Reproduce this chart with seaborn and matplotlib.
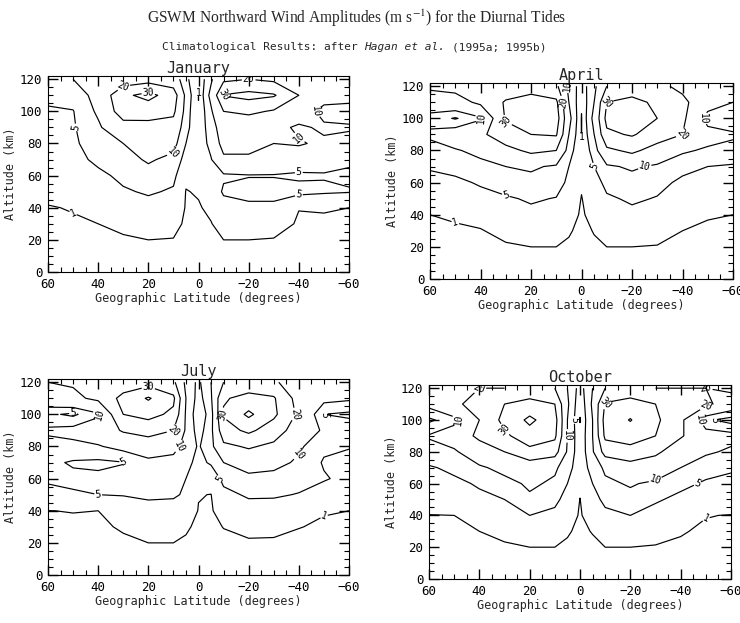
import numpy as np
import matplotlib
matplotlib.use("Agg")
import matplotlib.pyplot as plt
import seaborn as sns
from matplotlib.ticker import MultipleLocator

# ---------------- data ----------------
LAT = [60, 50, 40, 30, 20, 10, 5, 0, -5, -10, -20, -30, -40, -50, -60]
ALT = [0, 10, 20, 30, 40, 50, 60, 70, 80, 90, 100, 110, 120]
LEVELS = [1, 5, 10, 20, 30, 40]
MONTHS = ["January", "April", "July", "October"]
XTICKS = [60, 40, 20, 0, -20, -40, -60]
YTICKS = [0, 20, 40, 60, 80, 100, 120]

# each inner list: amplitude profile (m/s) at one latitude, altitude 0..120 km
JAN = [
    [0.2, 0.3, 0.5, 0.7, 0.9, 1.5, 2.5, 3.0, 3.5, 4.0, 4.5, 6.0, 8.0],
    [0.2, 0.3, 0.5, 0.8, 1.1, 2.0, 3.0, 3.5, 4.0, 4.5, 4.8, 7.0, 10.0],
    [0.2, 0.3, 0.6, 1.0, 1.5, 2.5, 4.0, 6.0, 8.0, 9.0, 11.0, 12.0, 11.0],
    [0.2, 0.3, 0.8, 1.4, 2.5, 4.5, 6.0, 8.0, 10.0, 16.0, 25.0, 28.0, 14.0],
    [0.2, 0.4, 1.0, 2.0, 3.5, 5.5, 8.0, 10.7, 13.0, 17.0, 24.0, 33.0, 16.0],
    [0.2, 0.4, 0.9, 1.8, 3.0, 4.5, 6.0, 8.5, 12.0, 16.0, 22.0, 25.0, 14.0],
    [0.1, 0.2, 0.4, 0.6, 0.8, 0.9, 1.5, 3.0, 5.0, 6.0, 7.0, 8.0, 6.0],
    [0.1, 0.2, 0.4, 0.6, 0.8, 1.2, 1.8, 2.5, 3.0, 2.5, 1.2, 0.9, 1.5],
    [0.1, 0.3, 0.6, 0.9, 1.5, 2.5, 3.5, 4.8, 6.0, 7.0, 9.0, 12.0, 9.0],
    [0.2, 0.4, 1.0, 2.0, 3.5, 5.5, 4.5, 9.0, 12.0, 14.0, 20.0, 30.5, 18.0],
    [0.2, 0.4, 1.0, 2.0, 4.0, 6.5, 4.8, 9.5, 11.0, 13.0, 22.0, 33.0, 20.0],
    [0.2, 0.3, 0.9, 1.8, 4.0, 6.5, 4.8, 8.0, 10.0, 12.0, 19.0, 31.0, 18.0],
    [0.2, 0.3, 0.6, 0.8, 1.05, 6.0, 4.5, 7.0, 10.5, 9.0, 14.0, 20.0, 14.0],
    [0.2, 0.3, 0.5, 0.8, 1.1, 5.5, 4.8, 6.0, 9.0, 11.0, 8.0, 13.0, 12.0],
    [0.2, 0.3, 0.5, 0.7, 1.0, 5.2, 4.5, 5.5, 8.5, 10.5, 8.0, 12.0, 11.0],
]

APR = [
    [0.2, 0.3, 0.5, 0.7, 1.0, 2.0, 3.5, 5.5, 8.0, 11.0, 8.0, 14.0, 22.0],
    [0.2, 0.3, 0.5, 0.8, 1.2, 2.5, 4.0, 6.5, 9.5, 14.0, 4.5, 16.0, 23.0],
    [0.2, 0.3, 0.6, 0.9, 1.6, 3.5, 5.5, 8.5, 11.5, 18.0, 9.0, 22.0, 24.0],
    [0.2, 0.3, 0.8, 1.5, 3.0, 4.5, 7.0, 10.0, 17.0, 26.0, 31.0, 31.0, 24.0],
    [0.2, 0.4, 1.0, 2.2, 4.0, 5.5, 8.0, 11.0, 22.0, 30.0, 36.0, 34.0, 26.0],
    [0.2, 0.4, 1.0, 2.0, 3.5, 4.8, 7.0, 9.0, 20.0, 31.0, 35.0, 32.0, 22.0],
    [0.1, 0.3, 0.7, 1.2, 2.0, 3.0, 4.0, 5.0, 7.0, 10.0, 12.0, 10.0, 8.0],
    [0.1, 0.2, 0.3, 0.5, 0.7, 0.9, 1.3, 1.8, 1.5, 0.9, 0.8, 1.5, 3.0],
    [0.1, 0.3, 0.7, 1.1, 1.8, 2.5, 3.5, 5.0, 7.0, 10.0, 12.0, 10.0, 8.0],
    [0.2, 0.4, 1.0, 2.0, 3.5, 4.5, 6.0, 9.0, 18.0, 28.0, 33.0, 30.0, 20.0],
    [0.2, 0.4, 1.0, 2.2, 4.2, 5.5, 7.5, 11.0, 22.0, 31.0, 36.0, 33.0, 24.0],
    [0.2, 0.3, 0.9, 1.8, 3.5, 4.8, 6.0, 9.0, 16.0, 25.0, 30.0, 28.0, 22.0],
    [0.2, 0.3, 0.6, 1.0, 1.8, 3.0, 4.3, 6.0, 11.0, 20.0, 22.0, 22.0, 18.0],
    [0.2, 0.3, 0.5, 0.8, 1.1, 2.2, 3.5, 5.0, 9.0, 13.0, 7.0, 14.0, 16.0],
    [0.2, 0.3, 0.5, 0.7, 1.0, 2.0, 3.0, 4.5, 8.0, 11.0, 5.0, 10.0, 14.0],
]

JUL = [
    [0.2, 0.3, 0.5, 0.7, 0.98, 4.0, 5.5, 6.0, 8.0, 11.0, 6.0, 15.0, 20.0],
    [0.2, 0.3, 0.5, 0.7, 1.05, 4.5, 6.0, 4.5, 8.5, 12.0, 4.0, 18.0, 21.0],
    [0.2, 0.3, 0.6, 0.7, 1.0, 5.0, 6.0, 4.0, 9.5, 14.0, 9.0, 22.0, 22.0],
    [0.2, 0.3, 0.7, 1.2, 2.5, 5.2, 6.5, 4.8, 12.0, 21.0, 30.0, 33.0, 24.0],
    [0.2, 0.4, 1.0, 2.5, 4.0, 5.5, 7.0, 8.5, 14.0, 24.0, 33.0, 41.0, 26.0],
    [0.2, 0.4, 1.0, 2.2, 3.5, 5.5, 6.5, 8.0, 12.0, 20.0, 28.0, 32.0, 22.0],
    [0.1, 0.3, 0.8, 1.2, 2.5, 4.5, 5.0, 6.0, 8.0, 9.0, 9.0, 10.0, 8.0],
    [0.1, 0.2, 0.4, 0.7, 0.9, 1.1, 3.0, 4.0, 4.5, 3.0, 2.0, 3.0, 4.0],
    [0.1, 0.2, 0.4, 0.6, 0.7, 0.95, 2.5, 5.5, 8.0, 8.0, 7.0, 9.0, 10.0],
    [0.2, 0.4, 0.6, 1.05, 2.5, 4.0, 6.0, 10.0, 18.0, 26.0, 31.0, 29.0, 20.0],
    [0.2, 0.4, 0.8, 1.5, 3.5, 5.5, 8.0, 14.0, 21.0, 32.0, 42.0, 33.0, 24.0],
    [0.2, 0.3, 0.8, 1.4, 3.2, 5.5, 8.0, 12.0, 18.0, 25.0, 32.0, 31.0, 22.0],
    [0.2, 0.3, 0.6, 1.05, 2.0, 4.8, 6.5, 9.0, 11.0, 15.0, 18.0, 16.0, 12.0],
    [0.2, 0.3, 0.5, 0.8, 1.1, 2.5, 5.5, 4.5, 6.0, 9.0, 5.0, 12.0, 11.0],
    [0.2, 0.3, 0.5, 0.7, 1.0, 2.0, 3.5, 4.0, 5.2, 8.0, 4.0, 11.0, 11.0],
]

OCT = [
    [0.2, 0.3, 0.5, 0.7, 0.95, 2.0, 3.5, 4.5, 8.0, 10.5, 4.0, 12.0, 16.0],
    [0.2, 0.3, 0.5, 0.8, 1.0, 2.5, 4.0, 6.0, 9.0, 14.0, 8.0, 18.0, 18.0],
    [0.2, 0.3, 0.6, 1.0, 1.8, 4.0, 5.5, 9.0, 15.0, 22.0, 20.0, 24.0, 20.0],
    [0.2, 0.4, 0.8, 1.4, 3.0, 5.0, 8.0, 12.0, 20.0, 28.0, 33.0, 30.0, 20.0],
    [0.2, 0.4, 1.0, 2.2, 5.0, 9.0, 11.0, 14.0, 27.0, 36.0, 42.0, 34.0, 22.0],
    [0.2, 0.4, 1.0, 2.0, 4.0, 6.0, 9.0, 11.0, 24.0, 32.0, 34.0, 30.0, 20.0],
    [0.1, 0.3, 0.7, 1.2, 2.0, 3.5, 5.0, 7.0, 9.0, 10.0, 10.0, 11.0, 10.0],
    [0.1, 0.2, 0.4, 0.6, 0.8, 0.95, 1.5, 2.0, 2.0, 1.5, 0.9, 1.5, 3.0],
    [0.1, 0.2, 0.6, 1.1, 2.0, 3.5, 5.0, 7.0, 9.0, 10.0, 10.0, 11.0, 10.0],
    [0.2, 0.4, 1.0, 2.0, 4.0, 6.0, 9.0, 11.0, 24.0, 32.0, 34.0, 31.0, 20.0],
    [0.2, 0.4, 1.0, 2.2, 5.0, 8.5, 10.5, 16.0, 26.0, 35.0, 40.5, 35.0, 22.0],
    [0.2, 0.4, 0.9, 1.6, 3.5, 5.5, 9.0, 14.0, 22.0, 30.0, 32.0, 30.0, 20.0],
    [0.2, 0.3, 0.8, 1.1, 2.0, 4.0, 6.0, 10.0, 14.0, 21.0, 22.0, 25.0, 20.0],
    [0.2, 0.3, 0.5, 0.8, 1.05, 2.5, 4.5, 6.5, 11.0, 13.0, 6.0, 22.0, 20.0],
    [0.2, 0.3, 0.5, 0.7, 0.95, 2.0, 4.0, 5.5, 9.0, 12.0, 3.0, 15.0, 22.0],
]

FIELDS = [JAN, APR, JUL, OCT]

# ---------------- style ----------------
sns.set_theme(style="ticks")
MONO = ["DejaVu Sans Mono", "DejaVu Sans"]
plt.rcParams.update({
    "font.family": MONO,
    "mathtext.fontset": "stix",
    "axes.edgecolor": "black",
    "axes.linewidth": 0.8,
    "xtick.color": "black",
    "ytick.color": "black",
    "xtick.direction": "in",
    "ytick.direction": "in",
    "xtick.top": True,
    "ytick.right": True,
})

fig = plt.figure(figsize=(7.4, 6.23), dpi=100)
W, H = 740.0, 623.0

# axes boxes in pixels: (left, top, right, bottom)
BOXES = [(48, 76, 349, 272), (430, 83, 733, 279),
         (48, 379, 349, 575), (429, 385, 731, 579)]

for month, field, (l, t, r, b) in zip(MONTHS, FIELDS, BOXES):
    ax = fig.add_axes([l / W, 1 - b / H, (r - l) / W, (b - t) / H])
    Z = np.array(field, dtype=float).T          # rows: altitude, cols: latitude
    x = np.array(LAT, dtype=float)[::-1]
    Z = Z[:, ::-1]
    cs = ax.contour(x, ALT, Z, levels=LEVELS, colors="black", linewidths=0.85)
    ax.clabel(cs, fmt="%d", fontsize=7, inline=True, inline_spacing=1)
    ax.set_xlim(60, -60)
    ax.set_ylim(0, 122)
    ax.set_xticks(XTICKS)
    ax.set_yticks(YTICKS)
    ax.xaxis.set_minor_locator(MultipleLocator(5))
    ax.yaxis.set_minor_locator(MultipleLocator(5))
    ax.tick_params(axis="both", which="major", direction="in", length=7,
                   width=1.0, colors="black", top=True, right=True,
                   bottom=True, left=True, labelsize=9, pad=4)
    ax.tick_params(axis="both", which="minor", direction="in", length=3.5,
                   width=0.8, colors="black", top=True, right=True,
                   bottom=True, left=True)
    ax.set_xlabel("Geographic Latitude (degrees)", fontsize=8.5, labelpad=1)
    ax.set_ylabel("Altitude (km)", fontsize=8.5, labelpad=2)
    ax.set_title(month, fontsize=11, pad=2)
    for sp in ax.spines.values():
        sp.set_visible(True)
        sp.set_color("black")

# ---------------- titles ----------------
fig.text(357 / W, 1 - 18 / H,
         "GSWM Northward Wind Amplitudes (m s$^{-1}$) for the Diurnal Tides",
         ha="center", va="center", fontsize=11.2,
         family=["Liberation Serif", "DejaVu Serif"])

renderer = fig.canvas.get_renderer()
parts = [("Climatological Results: after", "normal"),
         ("Hagan et al.", "italic"),
         ("(1995a; 1995b)", "normal")]
SUB_FS = 8.0
texts = []
for s, style in parts:
    texts.append(fig.text(0, 1 - 47 / H, s, ha="left", va="center",
                          fontsize=SUB_FS, style=style, family=MONO))
widths = [tx.get_window_extent(renderer).width for tx in texts]
space = fig.text(0, 0, "a", fontsize=SUB_FS, family=MONO)
sw = space.get_window_extent(renderer).width
space.remove()
total = sum(widths) + sw * (len(widths) - 1)
xcur = 354 - total / 2
for tx, w in zip(texts, widths):
    tx.set_x(xcur / W)
    xcur += w + sw

fig.savefig("out.png", dpi=100)
